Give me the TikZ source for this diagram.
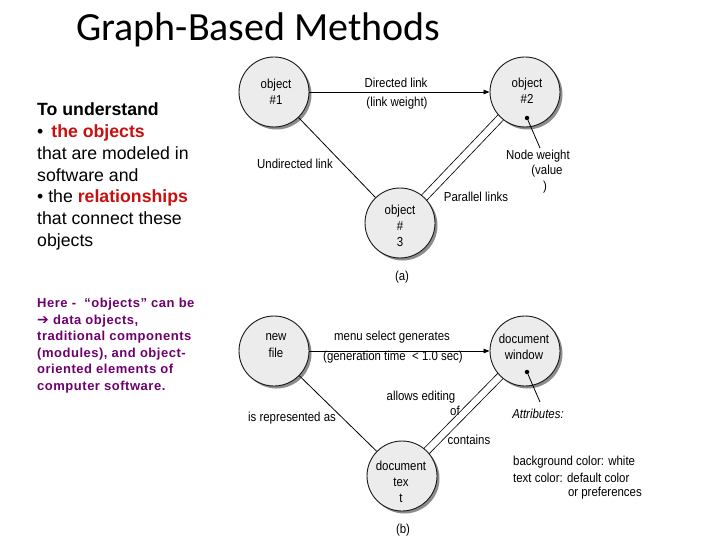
\documentclass[tikz,border=0pt]{standalone}
\usepackage{fontspec}
\setmainfont{Liberation Sans}
\newfontfamily\titlefont{Carlito}
\newfontfamily\dg[FakeStretch=0.88]{Liberation Sans}
\newfontfamily\purplefont[LetterSpace=4]{Liberation Sans}
\newfontfamily\arrowfont{DejaVu Sans}
\usetikzlibrary{shadows,arrows.meta,backgrounds}
\definecolor{myred}{RGB}{200,16,16}
\definecolor{mypurple}{RGB}{110,0,110}
\definecolor{circfill}{RGB}{236,236,236}
\begin{document}
\begin{tikzpicture}[x=1pt,y=-1pt,
  obj/.style={circle, draw=black!90, line width=0.9pt, fill=circfill, minimum size=70pt, inner sep=0pt,
     drop shadow={shadow xshift=2.5pt, shadow yshift=-2.5pt, fill=black!45, opacity=1}},
  lbl/.style={font=\dg\fontsize{13}{16}\selectfont, inner sep=0pt, align=center},
  lnk/.style={line width=0.8pt},
  par/.style={line width=0.8pt, double=white, double distance=6.5pt},
  lt/.style={anchor=base west, inner sep=0pt, font=\fontsize{17.7}{21.7}\selectfont},
  pt/.style={anchor=base west, inner sep=0pt, font=\purplefont\bfseries\fontsize{13}{16.5}\selectfont, text=mypurple},
  dot/.style={circle, fill=black, inner sep=0pt, minimum size=4.5pt},
]
\begin{scope}[on background layer]
\fill[white] (0,0) rectangle (720,540);
\end{scope}
\useasboundingbox (0,0) rectangle (720,540);

% title
\node[anchor=base west, inner sep=0pt, font=\titlefont\fontsize{40}{48}\selectfont] (title) at (76,41) {Graph-Based Methods};

% left text
\node[lt, font=\bfseries\fontsize{17.7}{21.7}\selectfont] (t1) at (37,116) {To understand};
\node[lt] (t2) at (37,138) {•\hspace{8pt}\textcolor{myred}{\bfseries the objects}};
\node[lt] (t3) at (37,160) {that are modeled in};
\node[lt] (t4) at (37,181.5) {software and};
\node[lt] (t5) at (37,203) {• the \textcolor{myred}{\bfseries relationships}};
\node[lt] (t6) at (37,225) {that connect these};
\node[lt] (t7) at (37,246.5) {objects};

\node[pt] (p1) at (37,307.5) {Here -\ \ “objects” can be};
\node[pt] (p2) at (37,324) {{\arrowfont\bfseries\fontsize{14}{14}\selectfont ➔} data objects,};
\node[pt] (p3) at (37,340.5) {traditional components};
\node[pt] (p4) at (37,357) {(modules), and object-};
\node[pt] (p5) at (37,373.5) {oriented elements of};
\node[pt] (p6) at (37,390) {computer software.};

% diagram (a)
\node[obj] (o1) at (274,92) {};
\node[obj] (o2) at (525,92) {};
\node[obj] (o3) at (400,223) {};
\node[lbl] (o1t) at (276,92) {object\\\#1};
\node[lbl] (o2t) at (527,91) {object\\\#2};
\node[lbl] (o3t) at (400,226) {object\\\#\\3};

\begin{scope}[on background layer]
\draw[par] (o2.center) -- (o3.center);
\end{scope}
\draw[lnk, -{Triangle[length=6pt,width=4.5pt]}] (o1) -- (o2);
\draw[lnk] (o1) -- (o3);

\node[dot] (nwd) at (527,118) {};
\coordinate (nwe) at (540,148);
\draw[lnk] (nwd) -- (nwe);

\node[lbl] (dl) at (396,83) {Directed link};
\node[lbl] (lw) at (397,103) {(link weight)};
\node[lbl] (ul) at (295,164) {Undirected link};
\node[lbl] (pl) at (476,197) {Parallel links};
\node[lbl] (nw1) at (538,156) {Node weight};
\node[lbl] (nw2) at (547,171) {(value};
\node[lbl] (nw3) at (545,187) {)};
\node[lbl] (la) at (402,277) {(a)};

% diagram (b)
\node[obj] (b1) at (274,351) {};
\node[obj] (b2) at (525,351) {};
\node[obj] (b3) at (402,476) {};
\node[lbl, font=\dg\fontsize{13}{17}\selectfont] (b1t) at (276,346) {new\\file};
\node[lbl] (b2t) at (524,347) {document\\window};
\node[lbl] (b3t) at (401,482) {document\\tex\\t};

\begin{scope}[on background layer]
\draw[par] (b2.center) -- (b3.center);
\end{scope}
\draw[lnk, -{Triangle[length=6pt,width=4.5pt]}] (b1) -- (b2);
\draw[lnk] (b1) -- (b3);

\node[dot] (bwd) at (527,372) {};
\coordinate (bwe) at (540,402);
\draw[lnk] (bwd) -- (bwe);

\node[lbl] (ms) at (392,337) {menu select generates};
\node[lbl] (gt) at (393,357) {(generation time\ \ < 1.0 sec)};
\node[lbl] (ir) at (292,418) {is represented as};
\node[lbl] (ae) at (421,397) {allows editing};
\node[lbl] (of) at (455,411) {of};
\node[lbl] (ct) at (469,440) {contains};
\node[lbl, font=\dg\itshape\fontsize{13}{16}\selectfont] (at) at (538,414) {Attributes:};
\node[lbl, anchor=west] (bg) at (513,462) {background color: white};
\node[lbl, anchor=west] (tc) at (513,478) {text color: default color};
\node[lbl, anchor=east] (op) at (642,493) {or preferences};
\node[lbl] (lb) at (403,530) {(b)};
\end{tikzpicture}
\end{document}
